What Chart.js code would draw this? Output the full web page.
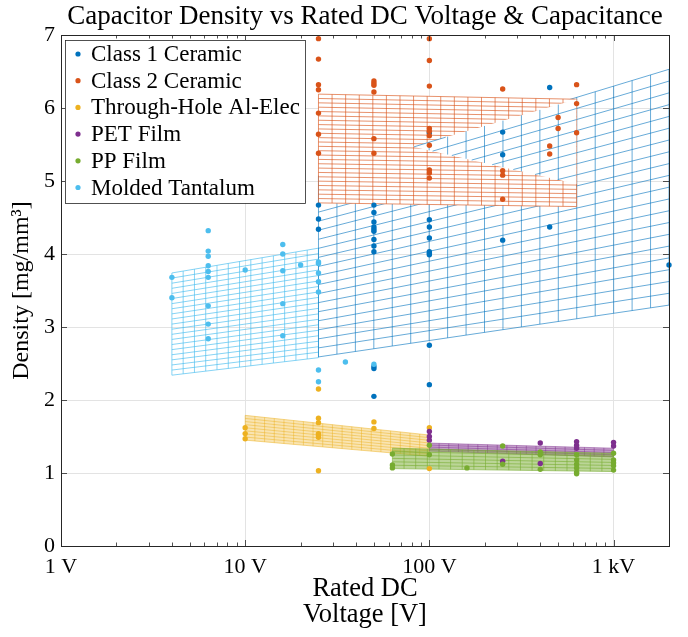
<!DOCTYPE html>
<html>
<head>
<meta charset="utf-8">
<script src="https://cdn.jsdelivr.net/npm/chart.js@4.4.1/dist/chart.umd.min.js"></script>
<style>
  html, body { margin: 0; padding: 0; background: #fff; }
</style>
</head>
<body>
<canvas id="chart0" width="688" height="637"></canvas>
<script>
const ctx = document.getElementById("chart0").getContext("2d");
const serif = "'Liberation Serif', 'DejaVu Serif', serif";

// series names / colours (MATLAB default order)
const seriesNames = ["Class 1 Ceramic", "Class 2 Ceramic", "Through-Hole Al-Elec", "PET Film", "PP Film", "Molded Tantalum"];
const seriesColors = ["#0072BD", "#D95319", "#EDB120", "#7E2F8E", "#77AC30", "#4DBEEE"];

// measured parts: rated DC voltage [V] and density [mg/mm^3]
const class1V = [25, 25, 25, 50, 50, 50, 50, 50, 50, 50, 50, 50, 50, 50, 50, 100, 100, 100, 100, 100, 100, 100, 100, 100, 250, 250, 250, 450, 450, 2000];
const class1D = [4.67, 4.48, 4.34, 4.67, 4.57, 4.44, 4.37, 4.34, 4.31, 4.20, 4.11, 4.03, 2.46, 2.43, 2.05, 5.66, 4.47, 4.37, 4.22, 4.03, 4.01, 3.99, 2.75, 2.21, 5.67, 5.36, 4.19, 6.28, 4.37, 3.85];

const class2V = [25, 25, 25, 25, 25, 25, 25, 50, 50, 50, 50, 50, 50, 100, 100, 100, 100, 100, 100, 100, 100, 100, 100, 250, 250, 250, 250, 450, 450, 500, 500, 630, 630, 630];
const class2D = [6.95, 6.67, 6.32, 6.25, 5.93, 5.64, 5.38, 6.37, 6.34, 6.31, 6.22, 5.58, 5.38, 6.95, 6.65, 6.30, 5.72, 5.68, 5.62, 5.49, 5.15, 5.11, 5.04, 6.26, 5.14, 5.08, 4.75, 5.48, 5.37, 5.87, 5.72, 6.32, 6.06, 5.66];

const alElecV = [10, 10, 10, 25, 25, 25, 25, 25, 25, 25, 50, 50, 100, 100];
const alElecD = [1.62, 1.54, 1.47, 1.75, 1.69, 1.54, 1.52, 1.49, 1.03, 2.15, 1.70, 1.61, 1.62, 1.06];

const petV = [100, 100, 100, 250, 400, 400, 630, 630, 630, 1000, 1000];
const petD = [1.57, 1.50, 1.45, 1.16, 1.41, 1.13, 1.43, 1.38, 1.34, 1.42, 1.37];

const ppV = [63, 63, 63, 100, 100, 160, 250, 250, 400, 400, 400, 630, 630, 630, 630, 630, 630, 1000, 1000, 1000, 1000, 1000];
const ppD = [1.26, 1.11, 1.07, 1.38, 1.25, 1.07, 1.37, 1.12, 1.29, 1.25, 1.05, 1.25, 1.18, 1.12, 1.07, 1.01, 0.99, 1.27, 1.18, 1.14, 1.10, 1.04];

const tantV = [4, 4, 6.3, 6.3, 6.3, 6.3, 6.3, 6.3, 6.3, 6.3, 6.3, 10, 16, 16, 16, 16, 16, 20, 25, 25, 25, 25, 25, 25, 25, 35, 50];
const tantD = [3.68, 3.40, 4.32, 4.04, 3.97, 3.84, 3.76, 3.68, 3.29, 3.04, 2.84, 3.78, 4.13, 4.00, 3.77, 3.32, 2.88, 3.85, 3.89, 3.87, 3.74, 3.62, 3.48, 2.41, 2.25, 2.52, 2.49];

// fitted surfaces: voltage span, density at both ends of top and bottom edge
const class1MeshV = [25, 2000], class1MeshTop = [5.07, 6.53], class1MeshBottom = [2.59, 3.30];
const class2MeshV = [25, 630], class2MeshTop = [6.19, 6.12], class2MeshBottom = [4.70, 4.65];
const tantMeshV = [4, 25], tantMeshTop = [3.74, 4.08], tantMeshBottom = [2.34, 2.58];
const alElecMeshV = [10, 100], alElecMeshTop = [1.79, 1.52], alElecMeshBottom = [1.45, 1.23];
const petMeshV = [100, 1000], petMeshTop = [1.41, 1.34], petMeshBottom = [1.30, 1.22];
const ppMeshV = [63, 1000], ppMeshTop = [1.34, 1.27], ppMeshBottom = [1.06, 1.02];
// part of the class 2 surface where the class 1 surface lies in front
const wedgeV = [81.5, 630], wedgeTop = [5.47, 6.12], wedgeBottom = [5.47, 4.96];

// axis ticks
const xTickValues = [1, 10, 100, 1000];
const xTickLabels = ["1 V", "10 V", "100 V", "1 kV"];
const yTickValues = [0, 1, 2, 3, 4, 5, 6, 7];

function lerp(a, b, t) { return a + (b - a) * t; }

// constant-C lines and constant-V lines of a surface, as segments
function meshSegments(v, top, bottom, rows, cols) {
  const segs = [];
  const l0 = Math.log10(v[0]), l1 = Math.log10(v[1]);
  for (let i = 0; i <= rows; i++) {
    const t = i / rows;
    segs.push([{x: v[0], y: lerp(bottom[0], top[0], t)}, {x: v[1], y: lerp(bottom[1], top[1], t)}]);
  }
  for (let j = 0; j <= cols; j++) {
    const s = j / cols;
    const x = Math.pow(10, lerp(l0, l1, s));
    segs.push([{x: x, y: lerp(bottom[0], bottom[1], s)}, {x: x, y: lerp(top[0], top[1], s)}]);
  }
  return segs;
}

function segsToPoints(segs) {
  const pts = [];
  segs.forEach(s => { pts.push(s[0], s[1], {x: s[1].x, y: null}); });
  return pts;
}

// clip a segment to a convex polygon in (log10 V, D) space
function clipSeg(seg, poly) {
  const p0 = [Math.log10(seg[0].x), seg[0].y], p1 = [Math.log10(seg[1].x), seg[1].y];
  let area = 0;
  for (let i = 0; i < poly.length; i++) {
    const a = poly[i], b = poly[(i + 1) % poly.length];
    area += a[0] * b[1] - b[0] * a[1];
  }
  const sgn = area > 0 ? 1 : -1;
  let t0 = 0, t1 = 1;
  const dx = p1[0] - p0[0], dy = p1[1] - p0[1];
  for (let i = 0; i < poly.length; i++) {
    const a = poly[i], b = poly[(i + 1) % poly.length];
    const ex = b[0] - a[0], ey = b[1] - a[1];
    const f0 = sgn * (ex * (p0[1] - a[1]) - ey * (p0[0] - a[0]));
    const fd = sgn * (ex * dy - ey * dx);
    if (Math.abs(fd) < 1e-12) { if (f0 < 0) return null; continue; }
    const t = -f0 / fd;
    if (fd > 0) t0 = Math.max(t0, t); else t1 = Math.min(t1, t);
    if (t0 >= t1) return null;
  }
  const at = t => ({x: Math.pow(10, p0[0] + dx * t), y: p0[1] + dy * t});
  return [at(t0), at(t1)];
}

function lineSet(points, color, width) {
  return {type: "line", data: points, borderColor: color, borderWidth: width, pointRadius: 0,
          spanGaps: false, fill: false, tension: 0};
}
function fillPair(v, top, bottom, color) {
  return [
    {type: "line", data: [{x: v[0], y: top[0]}, {x: v[1], y: top[1]}], borderColor: "rgba(0,0,0,0)",
     borderWidth: 1, pointRadius: 0, fill: "+1", backgroundColor: color},
    {type: "line", data: [{x: v[0], y: bottom[0]}, {x: v[1], y: bottom[1]}], borderColor: "rgba(0,0,0,0)",
     borderWidth: 1, pointRadius: 0, fill: false}
  ];
}

const class1Segs = meshSegments(class1MeshV, class1MeshTop, class1MeshBottom, 20, 19);
const wedgePoly = [[Math.log10(wedgeV[0]), wedgeTop[0]], [Math.log10(wedgeV[1]), wedgeTop[1]], [Math.log10(wedgeV[1]), wedgeBottom[1]]];
const class1Front = class1Segs.map(s => clipSeg(s, wedgePoly)).filter(s => s);

// bottom to top
let layers = [];
layers.push(lineSet(segsToPoints(meshSegments(tantMeshV, tantMeshTop, tantMeshBottom, 20, 13)), "rgba(77,190,238,0.85)", 0.8));
layers.push(lineSet(segsToPoints(class1Segs), "rgba(0,114,189,0.75)", 0.8));
layers = layers.concat(fillPair(class2MeshV, class2MeshTop, class2MeshBottom, "#ffffff"));
layers.push(lineSet(segsToPoints(meshSegments(class2MeshV, class2MeshTop, class2MeshBottom, 25, 19)), "rgba(217,83,25,0.8)", 0.8));
layers = layers.concat(fillPair(wedgeV, wedgeTop, wedgeBottom, "#ffffff"));
layers.push(lineSet(segsToPoints(class1Front), "rgba(0,114,189,0.75)", 0.8));
layers = layers.concat(fillPair(alElecMeshV, alElecMeshTop, alElecMeshBottom, "rgba(237,177,32,0.35)"));
layers.push(lineSet(segsToPoints(meshSegments(alElecMeshV, alElecMeshTop, alElecMeshBottom, 8, 19)), "rgba(237,177,32,0.6)", 0.8));
layers = layers.concat(fillPair(petMeshV, petMeshTop, petMeshBottom, "rgba(126,47,142,0.45)"));
layers.push(lineSet(segsToPoints(meshSegments(petMeshV, petMeshTop, petMeshBottom, 4, 19)), "rgba(126,47,142,0.6)", 0.8));
layers = layers.concat(fillPair(ppMeshV, ppMeshTop, ppMeshBottom, "rgba(119,172,48,0.5)"));
layers.push(lineSet(segsToPoints(meshSegments(ppMeshV, ppMeshTop, ppMeshBottom, 6, 19)), "rgba(119,172,48,0.75)", 0.8));

const pointSets = [[class1V, class1D], [class2V, class2D], [alElecV, alElecD], [petV, petD], [ppV, ppD], [tantV, tantD]];
pointSets.forEach((p, k) => {
  layers.push({
    type: "scatter", label: seriesNames[k],
    data: p[0].map((v, i) => ({x: v, y: p[1][i]})),
    backgroundColor: seriesColors[k], borderWidth: 0, pointRadius: 2.7, clip: 5
  });
});
layers.forEach((d, i) => { d.order = 200 - i; });

// box around the axes with inward ticks
const axesBox = {
  id: "axesBox",
  afterDatasetsDraw(chart) {
    const c = chart.ctx, a = chart.chartArea, xs = chart.scales.x, ys = chart.scales.y;
    c.save();
    c.strokeStyle = "#262626";
    c.lineWidth = 1;
    c.strokeRect(Math.round(a.left) + 0.5, Math.round(a.top) + 0.5, Math.round(a.right - a.left), Math.round(a.bottom - a.top));
    c.lineWidth = 0.8;
    c.beginPath();
    yTickValues.forEach(v => {
      const y = Math.round(ys.getPixelForValue(v)) + 0.5;
      c.moveTo(a.left, y); c.lineTo(a.left + 6, y);
      c.moveTo(a.right, y); c.lineTo(a.right - 6, y);
    });
    xTickValues.forEach(d => {
      for (let m = 1; m <= 9; m++) {
        const v = d * m;
        if (v > xs.max) continue;
        const x = Math.round(xs.getPixelForValue(v)) + 0.5;
        const len = m === 1 ? 6 : 3.5;
        c.moveTo(x, a.bottom); c.lineTo(x, a.bottom - len);
        c.moveTo(x, a.top); c.lineTo(x, a.top + len);
      }
    });
    c.stroke();
    c.restore();
  }
};

// legend inside the axes, upper left
const legendBox = {
  id: "legendBox",
  afterDraw(chart) {
    const c = chart.ctx, a = chart.chartArea;
    const x0 = a.left + 4, y0 = a.top + 5, w = 240, h = 163, rowH = 26.7;
    c.save();
    c.fillStyle = "#ffffff";
    c.fillRect(x0, y0, w, h);
    c.strokeStyle = "#262626";
    c.lineWidth = 0.8;
    c.strokeRect(x0 + 0.5, y0 + 0.5, w, h);
    c.font = "23px " + serif;
    c.textBaseline = "middle";
    seriesNames.forEach((name, i) => {
      const y = y0 + 14 + rowH * i;
      c.fillStyle = seriesColors[i];
      c.beginPath();
      c.arc(x0 + 13, y, 2.6, 0, Math.PI * 2);
      c.fill();
      c.fillStyle = "#000000";
      c.fillText(name, x0 + 26, y + 1);
    });
    c.restore();
  }
};

const chart = new Chart(ctx, {
  type: "scatter",
  data: { datasets: layers },
  plugins: [axesBox, legendBox],
  options: {
    responsive: false,
    animation: false,
    events: [],
    layout: { padding: { left: 0, right: 19, top: 0, bottom: 0 } },
    plugins: {
      legend: { display: false },
      tooltip: { enabled: false },
      title: {
        display: true,
        fullSize: false,
        text: "Capacitor Density vs Rated DC Voltage & Capacitance",
        color: "#000",
        font: { family: serif, size: 27, weight: "normal", lineHeight: 1 },
        padding: { top: 3, bottom: 5 }
      }
    },
    scales: {
      x: {
        type: "logarithmic", min: 1, max: 2000,
        afterBuildTicks: s => { s.ticks = xTickValues.map(v => ({value: v})); },
        afterFit: s => { s.height = 91; },
        ticks: {
          color: "#000", padding: 8, maxRotation: 0, autoSkip: false,
          font: { family: serif, size: 22 },
          callback: (v) => xTickLabels[xTickValues.indexOf(v)]
        },
        grid: { color: "#e3e3e3", drawTicks: false },
        border: { display: false },
        title: {
          display: true, text: ["Rated DC", "Voltage [V]"], color: "#000",
          font: { family: serif, size: 26.5, lineHeight: 0.98 },
          padding: { top: 0, bottom: 9 }
        }
      },
      y: {
        min: 0, max: 7,
        afterBuildTicks: s => { s.ticks = yTickValues.map(v => ({value: v})); },
        afterFit: s => { s.width = 61; },
        ticks: { color: "#000", padding: 6, font: { family: serif, size: 22 } },
        grid: { color: "#e3e3e3", drawTicks: false },
        border: { display: false },
        title: {
          display: true, text: "Density [mg/mm³]", color: "#000",
          font: { family: serif, size: 24 },
          padding: { top: 7.6, bottom: 0 }
        }
      }
    }
  }
});
</script>
</body>
</html>
